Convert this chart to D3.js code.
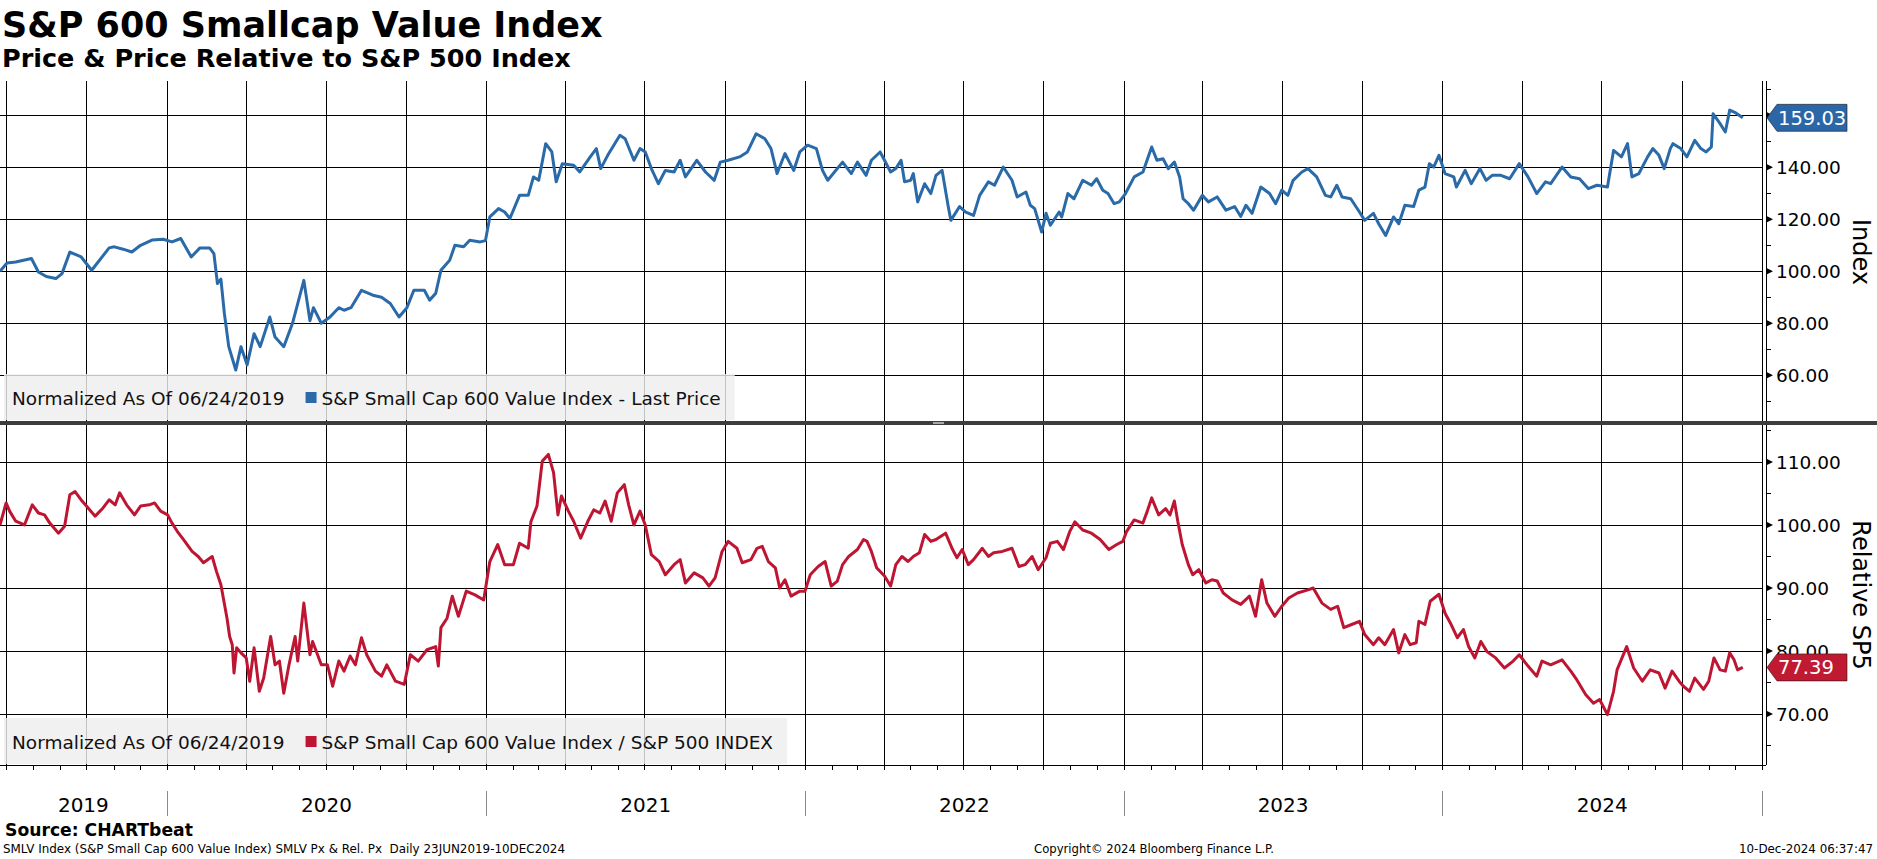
<!DOCTYPE html>
<html>
<head>
<meta charset="utf-8">
<script src="https://cdn.jsdelivr.net/npm/d3@7"></script>
<style>
    html, body { margin: 0; padding: 0; background: #fff; }
    svg { display: block; font-family: "DejaVu Sans", Verdana, sans-serif; }
</style>
</head>
<body>
<svg id="chart" width="1877" height="859"></svg>
<script>
// values (normalized to 100 on 06/24/2019)
var priceSeries = [
    ['2019-06-24', 100.0], ['2019-07-02', 103.2], ['2019-07-12', 103.6], ['2019-07-30', 104.9],
    ['2019-08-07', 99.7], ['2019-08-16', 98.0], ['2019-08-27', 97.2], ['2019-09-03', 99.1],
    ['2019-09-12', 107.4], ['2019-09-25', 105.5], ['2019-10-07', 100.4], ['2019-10-27', 109.0],
    ['2019-11-02', 109.4], ['2019-11-12', 108.5], ['2019-11-22', 107.4], ['2019-12-02', 110.0],
    ['2019-12-15', 112.0], ['2019-12-28', 112.3], ['2020-01-07', 111.3], ['2020-01-17', 112.6],
    ['2020-01-29', 105.5], ['2020-02-08', 109.0], ['2020-02-19', 109.0], ['2020-02-24', 106.8],
    ['2020-02-28', 95.3], ['2020-03-03', 97.0], ['2020-03-07', 83.7], ['2020-03-12', 71.0],
    ['2020-03-20', 62.0], ['2020-03-26', 71.0], ['2020-04-02', 64.0], ['2020-04-10', 76.0],
    ['2020-04-17', 71.0], ['2020-04-28', 82.4], ['2020-05-04', 74.7], ['2020-05-14', 71.0],
    ['2020-05-24', 80.0], ['2020-06-06', 96.5], ['2020-06-13', 81.0], ['2020-06-17', 86.0],
    ['2020-06-26', 80.0], ['2020-07-06', 82.4], ['2020-07-16', 86.0], ['2020-07-22', 85.0],
    ['2020-07-30', 86.0], ['2020-08-11', 92.7], ['2020-08-24', 90.8], ['2020-09-03', 90.0],
    ['2020-09-13', 87.6], ['2020-09-23', 82.4], ['2020-10-02', 86.0], ['2020-10-10', 92.7],
    ['2020-10-22', 92.7], ['2020-10-28', 88.9], ['2020-11-04', 91.5], ['2020-11-10', 100.4],
    ['2020-11-20', 104.2], ['2020-11-26', 110.0], ['2020-12-06', 109.4], ['2020-12-13', 111.9],
    ['2020-12-25', 111.3], ['2020-12-31', 111.8], ['2021-01-05', 120.9], ['2021-01-15', 124.1],
    ['2021-01-22', 122.8], ['2021-01-28', 120.3], ['2021-02-08', 129.2], ['2021-02-18', 129.2],
    ['2021-02-24', 136.3], ['2021-03-02', 135.0], ['2021-03-10', 149.1], ['2021-03-17', 145.9],
    ['2021-03-22', 134.4], ['2021-03-29', 141.4], ['2021-04-11', 140.8], ['2021-04-18', 138.2],
    ['2021-04-30', 144.0], ['2021-05-07', 147.2], ['2021-05-12', 139.5], ['2021-05-20', 144.6],
    ['2021-06-03', 152.3], ['2021-06-09', 151.0], ['2021-06-19', 142.7], ['2021-06-26', 147.2],
    ['2021-07-02', 145.9], ['2021-07-09', 139.5], ['2021-07-17', 133.7], ['2021-07-25', 138.8],
    ['2021-08-04', 138.2], ['2021-08-11', 142.7], ['2021-08-17', 136.3], ['2021-08-30', 142.7],
    ['2021-09-09', 138.2], ['2021-09-19', 135.0], ['2021-09-26', 142.0], ['2021-10-05', 142.7],
    ['2021-10-18', 144.0], ['2021-10-27', 145.9], ['2021-11-06', 152.9], ['2021-11-16', 151.0],
    ['2021-11-23', 147.2], ['2021-11-30', 137.6], ['2021-12-09', 145.3], ['2021-12-19', 138.8],
    ['2021-12-26', 145.9], ['2022-01-04', 148.5], ['2022-01-14', 147.2], ['2022-01-21', 138.8],
    ['2022-01-27', 135.0], ['2022-02-13', 142.0], ['2022-02-23', 137.6], ['2022-03-02', 142.0],
    ['2022-03-12', 136.9], ['2022-03-18', 142.7], ['2022-03-28', 145.9], ['2022-04-02', 142.7],
    ['2022-04-09', 138.2], ['2022-04-15', 139.5], ['2022-04-21', 142.7], ['2022-04-25', 134.4],
    ['2022-05-02', 135.0], ['2022-05-05', 137.6], ['2022-05-10', 126.7], ['2022-05-18', 133.7],
    ['2022-05-25', 129.9], ['2022-05-31', 136.9], ['2022-06-07', 138.8], ['2022-06-14', 124.9],
    ['2022-06-17', 119.6], ['2022-06-27', 124.9], ['2022-07-04', 122.8], ['2022-07-13', 121.5],
    ['2022-07-20', 129.2], ['2022-07-30', 134.4], ['2022-08-06', 133.1], ['2022-08-16', 140.1],
    ['2022-08-26', 135.0], ['2022-09-01', 128.6], ['2022-09-11', 130.5], ['2022-09-16', 125.4],
    ['2022-09-21', 124.1], ['2022-09-29', 115.1], ['2022-10-04', 122.3], ['2022-10-09', 117.7],
    ['2022-10-19', 122.8], ['2022-10-22', 120.9], ['2022-10-29', 129.9], ['2022-11-05', 127.9],
    ['2022-11-15', 135.0], ['2022-11-25', 133.1], ['2022-12-01', 135.6], ['2022-12-08', 131.2],
    ['2022-12-14', 129.9], ['2022-12-21', 126.0], ['2022-12-27', 126.7], ['2023-01-03', 129.9],
    ['2023-01-13', 136.3], ['2023-01-23', 138.2], ['2023-02-02', 147.8], ['2023-02-08', 142.7],
    ['2023-02-15', 143.3], ['2023-02-21', 139.5], ['2023-02-28', 142.0], ['2023-03-06', 136.3],
    ['2023-03-10', 127.9], ['2023-03-16', 126.0], ['2023-03-22', 123.5], ['2023-04-01', 129.2],
    ['2023-04-08', 126.7], ['2023-04-18', 128.6], ['2023-04-28', 123.5], ['2023-05-08', 124.9],
    ['2023-05-15', 121.1], ['2023-05-21', 125.4], ['2023-05-28', 122.3], ['2023-06-07', 132.4],
    ['2023-06-17', 129.9], ['2023-06-24', 126.0], ['2023-07-01', 131.2], ['2023-07-08', 129.2],
    ['2023-07-14', 135.0], ['2023-07-24', 138.2], ['2023-07-31', 139.5], ['2023-08-10', 136.3],
    ['2023-08-20', 129.2], ['2023-08-26', 128.6], ['2023-09-02', 133.1], ['2023-09-08', 128.6],
    ['2023-09-18', 127.9], ['2023-09-28', 122.8], ['2023-10-04', 119.6], ['2023-10-14', 122.3],
    ['2023-10-20', 118.3], ['2023-10-28', 113.8], ['2023-11-06', 120.9], ['2023-11-12', 118.3],
    ['2023-11-19', 125.4], ['2023-11-29', 124.9], ['2023-12-05', 131.2], ['2023-12-12', 132.4],
    ['2023-12-17', 141.4], ['2023-12-22', 140.1], ['2023-12-28', 144.6], ['2024-01-04', 137.6],
    ['2024-01-14', 136.3], ['2024-01-17', 132.4], ['2024-01-27', 138.8], ['2024-02-03', 133.7],
    ['2024-02-13', 139.5], ['2024-02-20', 135.0], ['2024-02-27', 136.9], ['2024-03-08', 136.9],
    ['2024-03-18', 135.6], ['2024-03-29', 141.4], ['2024-04-08', 136.3], ['2024-04-18', 129.9],
    ['2024-04-28', 134.4], ['2024-05-04', 133.7], ['2024-05-17', 140.1], ['2024-05-27', 136.3],
    ['2024-06-06', 135.6], ['2024-06-16', 131.8], ['2024-06-26', 133.1], ['2024-07-08', 132.4],
    ['2024-07-15', 146.5], ['2024-07-24', 144.0], ['2024-07-31', 149.1], ['2024-08-05', 136.3],
    ['2024-08-13', 137.6], ['2024-08-23', 144.0], ['2024-08-29', 147.2], ['2024-09-05', 144.6],
    ['2024-09-11', 139.5], ['2024-09-18', 147.2], ['2024-09-21', 149.1], ['2024-09-30', 147.2],
    ['2024-10-07', 144.0], ['2024-10-16', 150.4], ['2024-10-23', 147.2], ['2024-10-29', 145.9],
    ['2024-11-04', 147.8], ['2024-11-06', 160.6], ['2024-11-14', 156.8], ['2024-11-20', 153.6],
    ['2024-11-25', 162.0], ['2024-12-02', 160.9], ['2024-12-10', 159.03]
];

var relativeSeries = [
    ['2019-06-24', 100.0], ['2019-07-01', 103.5], ['2019-07-05', 102.2], ['2019-07-12', 100.6],
    ['2019-07-22', 100.0], ['2019-07-31', 103.2], ['2019-08-07', 101.9], ['2019-08-14', 101.6],
    ['2019-08-20', 100.3], ['2019-08-30', 98.7], ['2019-09-06', 99.8], ['2019-09-12', 104.8],
    ['2019-09-18', 105.3], ['2019-09-26', 103.8], ['2019-10-01', 103.0], ['2019-10-11', 101.4],
    ['2019-10-20', 102.7], ['2019-10-27', 104.0], ['2019-11-03', 103.2], ['2019-11-08', 105.1],
    ['2019-11-16', 103.2], ['2019-11-25', 101.6], ['2019-12-02', 103.0], ['2019-12-12', 103.2],
    ['2019-12-18', 103.5], ['2019-12-25', 102.2], ['2020-01-02', 101.6], ['2020-01-07', 100.3],
    ['2020-01-13', 99.0], ['2020-01-20', 97.7], ['2020-01-30', 95.8], ['2020-02-06', 95.0],
    ['2020-02-12', 94.0], ['2020-02-22', 95.0], ['2020-02-27', 92.6], ['2020-03-03', 90.5],
    ['2020-03-10', 85.2], ['2020-03-13', 82.3], ['2020-03-16', 81.0], ['2020-03-18', 76.5],
    ['2020-03-21', 80.5], ['2020-03-26', 79.7], ['2020-04-01', 78.9], ['2020-04-05', 75.2],
    ['2020-04-10', 80.5], ['2020-04-16', 73.6], ['2020-04-21', 75.7], ['2020-04-29', 82.3],
    ['2020-05-04', 77.8], ['2020-05-09', 78.4], ['2020-05-14', 73.3], ['2020-05-20', 77.8],
    ['2020-05-27', 82.3], ['2020-05-30', 78.4], ['2020-06-06', 87.6], ['2020-06-13', 79.4],
    ['2020-06-16', 81.5], ['2020-06-26', 77.8], ['2020-07-03', 77.8], ['2020-07-09', 74.4],
    ['2020-07-16', 78.4], ['2020-07-22', 76.8], ['2020-07-29', 79.2], ['2020-08-04', 77.8],
    ['2020-08-11', 82.1], ['2020-08-17', 79.4], ['2020-08-27', 76.8], ['2020-09-03', 76.0],
    ['2020-09-09', 77.8], ['2020-09-19', 75.2], ['2020-09-29', 74.7], ['2020-10-06', 79.4],
    ['2020-10-15', 78.4], ['2020-10-25', 80.2], ['2020-11-04', 80.7], ['2020-11-07', 77.6],
    ['2020-11-10', 83.7], ['2020-11-17', 85.2], ['2020-11-23', 88.7], ['2020-11-30', 85.5],
    ['2020-12-09', 89.5], ['2020-12-19', 88.9], ['2020-12-29', 88.1], ['2021-01-05', 94.2],
    ['2021-01-14', 96.9], ['2021-01-22', 93.7], ['2021-02-01', 93.7], ['2021-02-08', 97.1],
    ['2021-02-18', 96.3], ['2021-02-21', 100.5], ['2021-02-28', 103.0], ['2021-03-06', 110.1],
    ['2021-03-13', 111.2], ['2021-03-19', 108.3], ['2021-03-24', 101.6], ['2021-03-28', 104.6],
    ['2021-04-05', 102.2], ['2021-04-11', 100.6], ['2021-04-19', 97.9], ['2021-04-28', 100.8],
    ['2021-05-04', 102.4], ['2021-05-11', 101.9], ['2021-05-17', 103.8], ['2021-05-24', 100.6],
    ['2021-05-31', 105.1], ['2021-06-08', 106.4], ['2021-06-13', 103.2], ['2021-06-19', 100.0],
    ['2021-06-26', 102.2], ['2021-07-02', 100.0], ['2021-07-09', 95.3], ['2021-07-18', 94.2],
    ['2021-07-25', 92.1], ['2021-08-04', 93.7], ['2021-08-11', 94.5], ['2021-08-17', 90.8],
    ['2021-08-27', 92.4], ['2021-09-06', 91.6], ['2021-09-13', 90.3], ['2021-09-20', 91.6],
    ['2021-09-28', 95.8], ['2021-10-05', 97.4], ['2021-10-15', 96.3], ['2021-10-21', 94.0],
    ['2021-10-31', 94.5], ['2021-11-07', 96.3], ['2021-11-13', 96.6], ['2021-11-20', 94.2],
    ['2021-11-28', 93.2], ['2021-12-03', 90.0], ['2021-12-09', 91.3], ['2021-12-16', 88.7],
    ['2021-12-26', 89.5], ['2022-01-01', 89.5], ['2022-01-07', 92.1], ['2022-01-16', 93.4],
    ['2022-01-24', 94.2], ['2022-01-31', 90.3], ['2022-02-07', 91.1], ['2022-02-13', 93.7],
    ['2022-02-20', 95.0], ['2022-03-02', 96.1], ['2022-03-09', 97.7], ['2022-03-13', 97.4],
    ['2022-03-18', 95.8], ['2022-03-24', 93.2], ['2022-04-02', 91.9], ['2022-04-09', 90.3],
    ['2022-04-15', 93.7], ['2022-04-22', 95.0], ['2022-04-29', 94.2], ['2022-05-05', 95.0],
    ['2022-05-12', 95.6], ['2022-05-18', 98.5], ['2022-05-25', 97.4], ['2022-05-31', 97.7],
    ['2022-06-11', 98.7], ['2022-06-19', 96.1], ['2022-06-24', 94.8], ['2022-06-30', 96.1],
    ['2022-07-07', 93.7], ['2022-07-13', 94.5], ['2022-07-23', 96.3], ['2022-07-30', 95.0],
    ['2022-08-05', 95.6], ['2022-08-15', 95.8], ['2022-08-26', 96.3], ['2022-09-03', 93.4],
    ['2022-09-10', 93.7], ['2022-09-18', 95.0], ['2022-09-25', 92.9], ['2022-10-04', 94.8],
    ['2022-10-09', 97.1], ['2022-10-17', 97.4], ['2022-10-24', 96.1], ['2022-10-31', 98.9],
    ['2022-11-06', 100.5], ['2022-11-15', 99.2], ['2022-11-25', 98.7], ['2022-12-05', 97.7],
    ['2022-12-15', 96.1], ['2022-12-24', 96.9], ['2022-12-31', 97.4], ['2023-01-04', 98.9],
    ['2023-01-13', 100.8], ['2023-01-23', 100.3], ['2023-01-28', 102.2], ['2023-02-02', 104.3],
    ['2023-02-10', 101.6], ['2023-02-18', 102.6], ['2023-02-23', 101.6], ['2023-02-28', 103.8],
    ['2023-03-04', 100.5], ['2023-03-09', 96.9], ['2023-03-16', 93.7], ['2023-03-21', 92.1],
    ['2023-03-28', 92.9], ['2023-04-05', 90.8], ['2023-04-12', 91.3], ['2023-04-18', 91.1],
    ['2023-04-25', 89.2], ['2023-05-05', 88.1], ['2023-05-15', 87.4], ['2023-05-25', 88.7],
    ['2023-06-01', 85.5], ['2023-06-08', 91.3], ['2023-06-14', 87.6], ['2023-06-23', 85.5],
    ['2023-07-01', 87.1], ['2023-07-09', 88.4], ['2023-07-19', 89.2], ['2023-07-31', 89.7],
    ['2023-08-06', 90.0], ['2023-08-16', 87.6], ['2023-08-26', 86.6], ['2023-09-03', 87.1],
    ['2023-09-10', 83.7], ['2023-09-19', 84.2], ['2023-09-28', 84.7], ['2023-10-04', 82.6],
    ['2023-10-14', 81.0], ['2023-10-20', 82.1], ['2023-10-27', 81.0], ['2023-11-06', 83.4],
    ['2023-11-12', 79.7], ['2023-11-19', 82.6], ['2023-11-25', 81.0], ['2023-12-02', 81.3],
    ['2023-12-05', 84.7], ['2023-12-12', 84.2], ['2023-12-18', 87.9], ['2023-12-28', 89.0],
    ['2024-01-04', 86.0], ['2024-01-11', 84.2], ['2024-01-18', 82.1], ['2024-01-25', 83.4],
    ['2024-01-31', 80.7], ['2024-02-07', 78.9], ['2024-02-14', 81.5], ['2024-02-21', 79.9],
    ['2024-03-02', 78.9], ['2024-03-12', 77.3], ['2024-03-22', 78.4], ['2024-03-29', 79.4],
    ['2024-04-08', 77.6], ['2024-04-18', 76.0], ['2024-04-24', 78.4], ['2024-05-04', 77.8],
    ['2024-05-17', 78.6], ['2024-05-27', 76.8], ['2024-06-03', 75.4], ['2024-06-13', 73.1],
    ['2024-06-22', 71.7], ['2024-06-29', 72.3], ['2024-07-08', 69.9], ['2024-07-15', 73.6],
    ['2024-07-19', 77.0], ['2024-07-30', 80.7], ['2024-08-07', 77.3], ['2024-08-17', 75.2],
    ['2024-08-26', 77.0], ['2024-09-05', 76.5], ['2024-09-12', 74.1], ['2024-09-20', 76.8],
    ['2024-09-28', 75.2], ['2024-10-03', 74.4], ['2024-10-10', 73.6], ['2024-10-16', 75.7],
    ['2024-10-26', 73.9], ['2024-11-01', 75.2], ['2024-11-07', 78.9], ['2024-11-14', 77.0],
    ['2024-11-20', 76.8], ['2024-11-25', 79.7], ['2024-11-30', 78.6], ['2024-12-04', 77.0],
    ['2024-12-10', 77.39]
];

var priceTicks = [60, 80, 100, 120, 140, 160];
var priceMinorTicks = [50, 70, 90, 110, 130, 150, 170];
var relativeTicks = [70, 80, 90, 100, 110];
var relativeMinorTicks = [65, 75, 85, 95, 105, 115];
var yearLabels = ['2019', '2020', '2021', '2022', '2023', '2024'];

(function () {

    var parseDate = d3.timeParse('%Y-%m-%d'),
        fmt = d3.format('.2f');

    var WIDTH = 1877,
        PLOT_RIGHT = 1762,
        AXIS_X = 1766;

    var svg = d3.select('#chart');

    var x = d3.scaleTime()
        .domain([parseDate('2019-06-24'), parseDate('2025-01-01')])
        .range([0, PLOT_RIGHT]);

    function crisp(v) {
        return Math.round(v) + 0.5;
    }

    function Panel(opts) {
        this.opts = opts;
        this.top = opts.top;
        this.bottom = opts.bottom;
        this.y = d3.scaleLinear()
            .domain(opts.domain)
            .range([opts.bottom, opts.top]);
        this.data = opts.series.map(function (p) {
            return { date: parseDate(p[0]), value: p[1] };
        });
        this.last = this.data[this.data.length - 1];
        this.$layer = svg.append('g').classed('panel', true);
    }

    Panel.prototype = {
        constructor: Panel,

        drawGrid: function () {
            var self = this,
                $grid = this.$layer.append('g').classed('grid', true);

            $grid.selectAll('line.h')
                .data(this.opts.ticks)
                .enter()
                .append('line')
                .classed('h', true)
                .attr('x1', 0)
                .attr('x2', PLOT_RIGHT)
                .attr('y1', function (d) { return crisp(self.y(d)); })
                .attr('y2', function (d) { return crisp(self.y(d)); })
                .attr('stroke', '#000')
                .attr('stroke-width', 1);

            $grid.selectAll('line.v')
                .data(x.ticks(d3.timeMonth.every(3)))
                .enter()
                .append('line')
                .classed('v', true)
                .attr('x1', function (d) { return crisp(x(d)); })
                .attr('x2', function (d) { return crisp(x(d)); })
                .attr('y1', this.top)
                .attr('y2', this.bottom)
                .attr('stroke', '#000')
                .attr('stroke-width', 1);

            return this;
        },

        drawAxis: function () {
            var self = this,
                lastY = this.y(this.last.value),
                $axis = this.$layer.append('g').classed('axis', true);

            $axis.append('line')
                .attr('x1', crisp(AXIS_X))
                .attr('x2', crisp(AXIS_X))
                .attr('y1', this.top)
                .attr('y2', this.bottom)
                .attr('stroke', '#000');

            $axis.selectAll('line.minor')
                .data(this.opts.minorTicks.filter(function (d) {
                    var p = self.y(d);
                    return p > self.top && p < self.bottom;
                }))
                .enter()
                .append('line')
                .classed('minor', true)
                .attr('x1', AXIS_X)
                .attr('x2', AXIS_X + 5)
                .attr('y1', function (d) { return crisp(self.y(d)); })
                .attr('y2', function (d) { return crisp(self.y(d)); })
                .attr('stroke', '#000');

            $axis.selectAll('path.major')
                .data(this.opts.ticks)
                .enter()
                .append('path')
                .classed('major', true)
                .attr('d', function (d) {
                    var p = self.y(d);
                    return 'M' + AXIS_X + ',' + (p - 3.5) + 'L' + (AXIS_X + 7) + ',' + p +
                        'L' + AXIS_X + ',' + (p + 3.5) + 'Z';
                })
                .attr('fill', '#000');

            // a tick label sitting right under the last-value flag is hidden by it
            $axis.selectAll('text.tick')
                .data(this.opts.ticks.filter(function (d) {
                    return Math.abs(self.y(d) - lastY) > 10;
                }))
                .enter()
                .append('text')
                .classed('tick', true)
                .attr('x', AXIS_X + 10)
                .attr('y', function (d) { return self.y(d) + 6.7; })
                .attr('font-size', 18.5)
                .attr('fill', '#000')
                .text(fmt);

            $axis.append('text')
                .attr('transform', 'translate(1862,' + this.opts.titleY + ') rotate(90)')
                .attr('text-anchor', 'middle')
                .attr('dy', '0.36em')
                .attr('font-size', 24)
                .attr('fill', '#000')
                .text(this.opts.title);

            return this;
        },

        drawSeries: function () {
            var y = this.y,
                line = d3.line()
                    .x(function (d) { return x(d.date); })
                    .y(function (d) { return y(d.value); });

            this.$layer.append('path')
                .datum(this.data)
                .classed('series', true)
                .attr('d', line)
                .attr('fill', 'none')
                .attr('stroke', this.opts.color)
                .attr('stroke-width', 3)
                .attr('stroke-linejoin', 'round');

            return this;
        },

        drawLegend: function () {
            var $legend = this.$layer.append('g').classed('legend', true),
                top = this.bottom - 47,
                base = top + 31;

            var $box = $legend.append('rect')
                .attr('x', 4)
                .attr('y', top)
                .attr('height', 46)
                .attr('fill', 'rgba(238,238,238,0.82)');

            var $note = $legend.append('text')
                .attr('x', 12)
                .attr('y', base)
                .attr('font-size', 18.5)
                .attr('fill', '#111')
                .text('Normalized As Of 06/24/2019');

            var sx = 12 + $note.node().getComputedTextLength() + 21;

            $legend.append('rect')
                .attr('x', sx)
                .attr('y', base - 13)
                .attr('width', 11)
                .attr('height', 11)
                .attr('fill', this.opts.color);

            var $name = $legend.append('text')
                .attr('x', sx + 16)
                .attr('y', base)
                .attr('font-size', 18.5)
                .attr('fill', '#111')
                .text(this.opts.legend);

            $box.attr('width', sx + 16 + $name.node().getComputedTextLength() + 14 - 4);

            return this;
        },

        drawLastValue: function () {
            var p = this.y(this.last.value),
                $label = this.$layer.append('g').classed('last', true);

            $label.append('path')
                .attr('d', 'M' + (AXIS_X + 1) + ',' + p +
                    'L' + (AXIS_X + 11) + ',' + (p - 13.5) +
                    'L1847,' + (p - 13.5) +
                    'L1847,' + (p + 13.5) +
                    'L' + (AXIS_X + 11) + ',' + (p + 13.5) + 'Z')
                .attr('fill', this.opts.boxColor)
                .attr('stroke', '#1a1a1a')
                .attr('stroke-width', 0.6);

            $label.append('text')
                .attr('x', AXIS_X + 12)
                .attr('y', p + 7)
                .attr('font-size', 19.5)
                .attr('fill', '#fff')
                .text(fmt(this.last.value));

            return this;
        }
    };

    // titles
    svg.append('text')
        .attr('x', 2)
        .attr('y', 37)
        .attr('font-size', 35)
        .attr('font-weight', 'bold')
        .attr('fill', '#000')
        .text('S&P 600 Smallcap Value Index');

    svg.append('text')
        .attr('x', 2)
        .attr('y', 67)
        .attr('font-size', 25.5)
        .attr('font-weight', 'bold')
        .attr('fill', '#000')
        .text('Price & Price Relative to S&P 500 Index');

    var pricePanel = new Panel({
        top: 81,
        bottom: 421,
        domain: [42.4, 173.2],
        ticks: priceTicks,
        minorTicks: priceMinorTicks,
        series: priceSeries,
        color: '#2a6aa8',
        boxColor: '#2b67a6',
        title: 'Index',
        titleY: 252,
        legend: 'S&P Small Cap 600 Value Index - Last Price'
    });

    var relativePanel = new Panel({
        top: 425,
        bottom: 765,
        domain: [61.9, 115.87],
        ticks: relativeTicks,
        minorTicks: relativeMinorTicks,
        series: relativeSeries,
        color: '#be1632',
        boxColor: '#c01a33',
        title: 'Relative SP5',
        titleY: 595,
        legend: 'S&P Small Cap 600 Value Index / S&P 500 INDEX'
    });

    [pricePanel, relativePanel].forEach(function (panel) {
        panel.drawGrid()
            .drawSeries()
            .drawLegend()
            .drawAxis()
            .drawLastValue();
    });

    // panel divider
    svg.append('rect')
        .attr('x', 0)
        .attr('y', 421)
        .attr('width', WIDTH)
        .attr('height', 4)
        .attr('fill', '#3d3d3d');

    svg.append('rect')
        .attr('x', 933)
        .attr('y', 422)
        .attr('width', 11)
        .attr('height', 2)
        .attr('fill', '#a8a8a8');

    // time axis
    var $time = svg.append('g').classed('time-axis', true),
        domain = x.domain();

    $time.append('line')
        .attr('x1', 0)
        .attr('x2', AXIS_X)
        .attr('y1', crisp(765))
        .attr('y2', crisp(765))
        .attr('stroke', '#000');

    $time.selectAll('line.month')
        .data(x.ticks(d3.timeMonth.every(1)))
        .enter()
        .append('line')
        .classed('month', true)
        .attr('x1', function (d) { return crisp(x(d)); })
        .attr('x2', function (d) { return crisp(x(d)); })
        .attr('y1', 765)
        .attr('y2', 770)
        .attr('stroke', '#000');

    $time.selectAll('line.year')
        .data(x.ticks(d3.timeYear.every(1)))
        .enter()
        .append('line')
        .classed('year', true)
        .attr('x1', function (d) { return crisp(x(d)); })
        .attr('x2', function (d) { return crisp(x(d)); })
        .attr('y1', 791)
        .attr('y2', 816)
        .attr('stroke', '#8a8a8a');

    $time.selectAll('text.year')
        .data(yearLabels)
        .enter()
        .append('text')
        .classed('year', true)
        .attr('x', function (d) {
            var start = new Date(+d, 0, 1),
                end = new Date(+d + 1, 0, 1);
            if (start < domain[0]) start = domain[0];
            if (end > domain[1]) end = domain[1];
            return (x(start) + x(end)) / 2;
        })
        .attr('y', 812)
        .attr('text-anchor', 'middle')
        .attr('font-size', 20)
        .attr('fill', '#000')
        .text(function (d) { return d; });

    // footer
    svg.append('text')
        .attr('x', 5)
        .attr('y', 836)
        .attr('font-size', 17.2)
        .attr('font-weight', 'bold')
        .attr('fill', '#000')
        .text('Source: CHARTbeat');

    [
        { x: 3, w: 562, t: 'SMLV Index (S&P Small Cap 600 Value Index) SMLV Px & Rel. Px  Daily 23JUN2019-10DEC2024' },
        { x: 1034, w: 240, t: 'Copyright\u00a9 2024 Bloomberg Finance L.P.' },
        { x: 1739, w: 134, t: '10-Dec-2024 06:37:47' }
    ].forEach(function (f) {
        svg.append('text')
            .attr('x', f.x)
            .attr('y', 853)
            .attr('font-size', 12)
            .attr('fill', '#000')
            .attr('textLength', f.w)
            .attr('lengthAdjust', 'spacingAndGlyphs')
            .style('white-space', 'pre')
            .text(f.t);
    });

})();
</script>
</body>
</html>
